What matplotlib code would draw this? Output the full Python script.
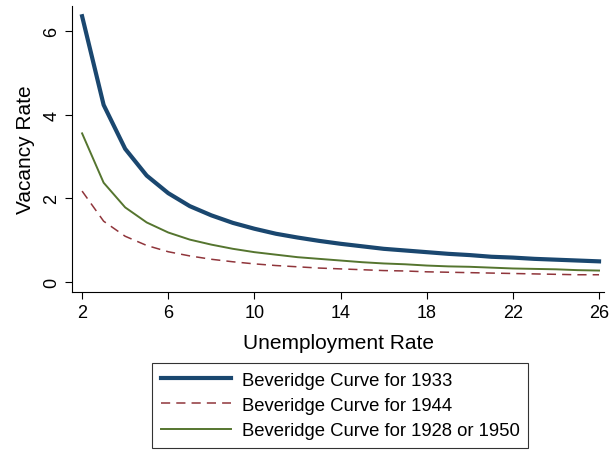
import matplotlib
matplotlib.use('Agg')
from matplotlib import pyplot as plt

plt.rcParams['font.family'] = ['Liberation Sans', 'DejaVu Sans']

# unemployment rate on the x axis
unemp = list(range(2, 27))

# vacancy rate
v1933 = [6.35, 4.23, 3.18, 2.54, 2.12, 1.81, 1.59, 1.41, 1.27, 1.15, 1.06, 0.98, 0.91,
         0.85, 0.79, 0.75, 0.71, 0.67, 0.64, 0.60, 0.58, 0.55, 0.53, 0.51, 0.49]
v1944 = [2.17, 1.45, 1.09, 0.87, 0.72, 0.62, 0.54, 0.48, 0.43, 0.39, 0.36, 0.33, 0.31,
         0.29, 0.27, 0.26, 0.24, 0.23, 0.22, 0.21, 0.20, 0.19, 0.18, 0.17, 0.17]
v1950 = [3.55, 2.37, 1.78, 1.42, 1.18, 1.01, 0.89, 0.79, 0.71, 0.65, 0.59, 0.55, 0.51,
         0.47, 0.44, 0.42, 0.39, 0.37, 0.36, 0.34, 0.32, 0.31, 0.30, 0.28, 0.27]

xticks = [2, 6, 10, 14, 18, 22, 26]
yticks = [0, 2, 4, 6]

fig = plt.figure(figsize=(6.12, 4.52), dpi=100)
ax = fig.add_axes([0.1176, 0.352, 0.87, 0.633])

ax.plot(unemp, v1933, color='#1a476f', lw=3.0, label='Beveridge Curve for 1933')
ax.plot(unemp, v1944, color='#90353b', lw=1.1, ls=(0, (6, 4)), label='Beveridge Curve for 1944')
ax.plot(unemp, v1950, color='#55752f', lw=1.4, label='Beveridge Curve for 1928 or 1950')

ax.set_xlim(1.53, 26.25)
ax.set_ylim(-0.24, 6.6)
ax.set_xticks(xticks)
ax.set_yticks(yticks)
ax.tick_params(labelsize=13, length=5, width=0.8, direction='out')
for lab in ax.get_yticklabels():
    lab.set_rotation(90)
    lab.set_va('center')
ax.spines['top'].set_visible(False)
ax.spines['right'].set_visible(False)
ax.set_xlabel('Unemployment Rate', fontsize=15, labelpad=9)
ax.set_ylabel('Vacancy Rate', fontsize=15, labelpad=6)

leg = fig.legend(loc='upper center', bbox_to_anchor=(0.556, 0.194), fontsize=13.3,
                 frameon=True, fancybox=False, edgecolor='black', handlelength=3.8,
                 borderpad=0.45, borderaxespad=0, labelspacing=0.45, handletextpad=0.6)
leg.get_frame().set_linewidth(0.8)

fig.savefig('out.png', dpi=100)
